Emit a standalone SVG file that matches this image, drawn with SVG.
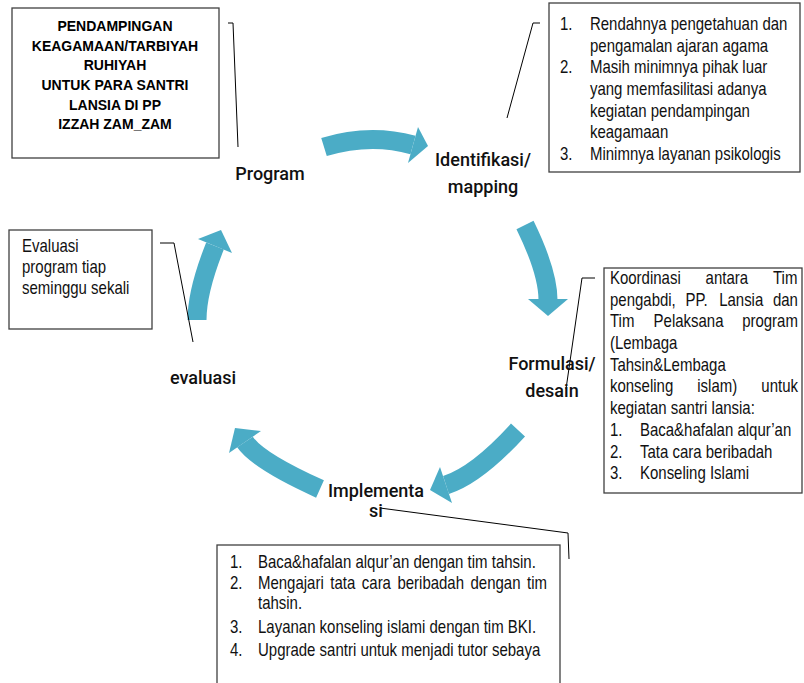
<svg xmlns="http://www.w3.org/2000/svg" width="804" height="683" viewBox="0 0 804 683">
<style>
.box{fill:#fff;stroke:#404040;stroke-width:1.3}
.t{font-family:"Liberation Sans",Arial,sans-serif;font-size:18px;fill:#111}
.tb{font-family:"Liberation Sans",Arial,sans-serif;font-size:14px;font-weight:bold;fill:#000;text-anchor:middle}
.lbl{font-family:Roboto,"Liberation Sans",sans-serif;font-size:18px;font-weight:500;fill:#111;text-anchor:middle}
.arr{fill:none;stroke:#4BACC6;stroke-width:19}
.head{fill:#4BACC6}
.con{fill:none;stroke:#000;stroke-width:1}
</style>
<rect width="804" height="683" fill="#fff"/>

<g id="arrows">
<path class="arr" d="M324,147 Q370,133 413,145"/>
<polygon class="head" points="418,127 408,163 428,146"/>
<path class="arr" d="M525,225 Q548,272 548,300"/>
<polygon class="head" points="528,299 568,299 548,316"/>
<path class="arr" d="M518,430 Q477,475 446,485"/>
<polygon class="head" points="452,503 440,467 430,490"/>
<path class="arr" d="M320,489 Q258,461 245,442"/>
<polygon class="head" points="261,431 229,453 235,428"/>
<path class="arr" d="M197,320 Q197,291 215,246"/>
<polygon class="head" points="198,239 232,253 221,230"/>
</g>

<g id="connectors">
<polyline class="con" points="228,23 233,23 238,147"/>
<polyline class="con" points="540,23 533,23 507,118"/>
<polyline class="con" points="595,278 582,278 566,389"/>
<polyline class="con" points="380,508 568,533 569,559"/>
<polyline class="con" points="160,243 174,243 193,342"/>
</g>

<g id="program-box">
<rect class="box" x="12" y="8" width="207" height="150"/>
<text class="tb" x="115" y="31">PENDAMPINGAN</text>
<text class="tb" x="115" y="50.7">KEAGAMAAN/TARBIYAH</text>
<text class="tb" x="115" y="70.4">RUHIYAH</text>
<text class="tb" x="115" y="90">UNTUK PARA SANTRI</text>
<text class="tb" x="115" y="109.7">LANSIA  DI PP</text>
<text class="tb" x="115" y="129.4">IZZAH ZAM_ZAM</text>
</g>

<g id="identifikasi-box">
<rect class="box" x="549" y="3" width="251" height="169"/>
<g transform="scale(0.8333,1)">
<text class="t" y="30"><tspan x="672">1.</tspan><tspan x="708">Rendahnya pengetahuan dan</tspan></text>
<text class="t" x="708" y="51.7">pengamalan ajaran agama</text>
<text class="t" y="73.3"><tspan x="672">2.</tspan><tspan x="708">Masih minimnya pihak luar</tspan></text>
<text class="t" x="708" y="95">yang memfasilitasi adanya</text>
<text class="t" x="708" y="116.7">kegiatan pendampingan</text>
<text class="t" x="708" y="138.3">keagamaan</text>
<text class="t" y="160"><tspan x="672">3.</tspan><tspan x="708">Minimnya layanan psikologis</tspan></text>
</g>
</g>

<g id="formulasi-box">
<rect class="box" x="604" y="268" width="198" height="225"/>
<g transform="scale(0.8333,1)">
<text class="t" y="284"><tspan x="732">Koordinasi</tspan><tspan x="846.8">antara</tspan><tspan x="927.6">Tim</tspan></text>
<text class="t" y="305.7"><tspan x="732">pengabdi,</tspan><tspan x="822.6">PP.</tspan><tspan x="863">Lansia</tspan><tspan x="927.6">dan</tspan></text>
<text class="t" y="327.4"><tspan x="732">Tim</tspan><tspan x="784.3">Pelaksana</tspan><tspan x="890.6">program</tspan></text>
<text class="t" x="732" y="349.1">(Lembaga</text>
<text class="t" x="732" y="370.8">Tahsin&amp;Lembaga</text>
<text class="t" y="392.5"><tspan x="732">konseling</tspan><tspan x="836.8">islam)</tspan><tspan x="913.6">untuk</tspan></text>
<text class="t" x="732" y="414.2">kegiatan santri lansia:</text>
<text class="t" y="435.9"><tspan x="732">1.</tspan><tspan x="768">Baca&amp;hafalan alqur’an</tspan></text>
<text class="t" y="457.6"><tspan x="732">2.</tspan><tspan x="768">Tata cara beribadah</tspan></text>
<text class="t" y="479.3"><tspan x="732">3.</tspan><tspan x="768">Konseling Islami</tspan></text>
</g>
</g>

<g id="implementasi-box">
<rect class="box" x="217" y="545" width="343" height="150"/>
<g transform="scale(0.8333,1)">
<text class="t" y="568"><tspan x="276">1.</tspan><tspan x="309.6">Baca&amp;hafalan alqur’an dengan tim tahsin.</tspan></text>
<text class="t" y="589"><tspan x="276">2.</tspan><tspan x="309.6">Mengajari</tspan><tspan x="396.4">tata</tspan><tspan x="434.2">cara</tspan><tspan x="476.9">beribadah</tspan><tspan x="564.6">dengan</tspan><tspan x="632.4">tim</tspan></text>
<text class="t" x="309.6" y="609.5">tahsin.</text>
<text class="t" y="633"><tspan x="276">3.</tspan><tspan x="309.6">Layanan konseling islami dengan tim BKI.</tspan></text>
<text class="t" y="656"><tspan x="276">4.</tspan><tspan x="309.6">Upgrade santri untuk menjadi tutor sebaya</tspan></text>
</g>
</g>

<g id="evaluasi-box">
<rect class="box" x="9" y="230" width="143" height="99"/>
<g transform="scale(0.8333,1)">
<text class="t" x="26.4" y="252">Evaluasi</text>
<text class="t" x="26.4" y="273">program tiap</text>
<text class="t" x="26.4" y="294">seminggu sekali</text>
</g>
</g>

<g id="labels">
<text id="program" class="lbl" x="270" y="180">Program</text>
<text id="identifikasi" class="lbl" x="483" y="166"><tspan x="483">Identifikasi/</tspan><tspan x="483" y="193">mapping</tspan></text>
<text id="formulasi" class="lbl" x="552" y="370"><tspan x="552">Formulasi/</tspan><tspan x="552" y="397">desain</tspan></text>
<text id="implementasi" class="lbl" x="376" y="497"><tspan x="376">Implementa</tspan><tspan x="376" y="517">si</tspan></text>
<text id="evaluasi" class="lbl" x="203" y="384">evaluasi</text>
</g>
</svg>
